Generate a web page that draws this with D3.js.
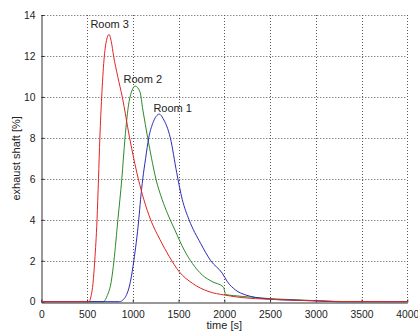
<!DOCTYPE html>
<html>
<head>
<meta charset="utf-8">
<script src="https://cdn.jsdelivr.net/npm/d3@7"></script>
<style>
  body { margin: 0; background: #fff; }
  svg { display: block; font-family: "Liberation Sans", Arial, sans-serif; }
</style>
</head>
<body>
<svg id="chart"></svg>
<script>
// room 1 (blue)
const room1T = [0, 855, 900, 928, 975, 1011, 1065, 1085, 1109, 1140, 1174, 1217, 1255, 1290, 1330, 1410, 1480, 1540, 1615, 1741, 1852, 1978, 2033, 2123, 2232, 2341, 2486, 2700, 3000, 3230, 4000];
const room1V = [0, 0, 0.12, 0.3, 1, 2, 4, 5, 6, 7, 8, 8.7, 9.05, 9.16, 8.95, 8, 6.3, 5, 4, 2.85, 2, 1.39, 0.98, 0.57, 0.33, 0.21, 0.13, 0.08, 0.04, 0, 0];
// room 2 (green)
const room2T = [0, 674, 700, 721, 765, 794, 837, 880, 915, 950, 990, 1025, 1078, 1110, 1163, 1205, 1252, 1320, 1380, 1460, 1562, 1651, 1760, 1868, 1990, 2015, 2100, 2300, 2500, 2800, 3100, 3300, 4000];
const room2V = [0, 0, 0.1, 0.3, 1, 2, 4, 6, 8, 9.5, 10.3, 10.53, 10.25, 9.36, 8, 7, 6, 5, 4.3, 3.5, 2.52, 1.87, 1.3, 0.98, 0.72, 0.35, 0.3, 0.22, 0.15, 0.09, 0.03, 0, 0];
// room 3 (red)
const room3T = [0, 520, 545, 565, 584, 609, 625, 640, 660, 685, 712, 740, 765, 790, 835, 885, 965, 1010, 1060, 1120, 1195, 1295, 1399, 1508, 1651, 1833, 1997, 2193, 2486, 2800, 3100, 3250, 4000];
const room3V = [0, 0, 0.3, 0.9, 2, 4, 6, 8, 10, 11.8, 12.75, 13.05, 12.7, 12, 11, 10, 8, 7, 6, 5, 4, 3.05, 2.2, 1.46, 0.9, 0.49, 0.33, 0.2, 0.12, 0.07, 0.03, 0.01, 0];

const xTicks = [0, 500, 1000, 1500, 2000, 2500, 3000, 3500, 4000];
const yTicks = [0, 2, 4, 6, 8, 10, 12, 14];

// labels of the curves
const labelText = ["Room 3", "Room 2", "Room 1"];
const labelT = [537, 899, 1225];
const labelV = [13.35, 10.66, 9.26];

function drawGraph() {
    let svg = d3.select("#chart")
        .attr("width", 418)
        .attr("height", 334);

    let area = { left: 41.3, right: 407.3, top: 15, bottom: 301.7 };

    let scX = d3.scaleLinear().domain([0, 4000]).range([area.left, area.right]);
    let scY = d3.scaleLinear().domain([0, 14]).range([area.bottom, area.top]);

    // grid (dotted)
    let grid = svg.append("g")
        .attr("stroke", "#555")
        .attr("stroke-width", 1)
        .attr("stroke-dasharray", "1,2");
    grid.selectAll(".gx")
        .data(xTicks.filter(d => d > 0))
        .enter()
        .append("line")
        .attr("x1", d => Math.round(scX(d)) + 0.5)
        .attr("x2", d => Math.round(scX(d)) + 0.5)
        .attr("y1", area.top)
        .attr("y2", area.bottom);
    grid.selectAll(".gy")
        .data(yTicks.filter(d => d > 0))
        .enter()
        .append("line")
        .attr("y1", d => Math.round(scY(d)) + 0.5)
        .attr("y2", d => Math.round(scY(d)) + 0.5)
        .attr("x1", area.left)
        .attr("x2", area.right);

    // axes
    let axisX = d3.axisBottom(scX).tickValues(xTicks).tickFormat(d3.format("d"))
        .tickSizeInner(-3).tickSizeOuter(0).tickPadding(8);
    let gx = svg.append("g")
        .attr("transform", `translate(0, ${Math.round(area.bottom) + 0.5})`)
        .call(axisX);
    let axisY = d3.axisLeft(scY).tickValues(yTicks).tickFormat(d3.format("d"))
        .tickSizeInner(-3).tickSizeOuter(0).tickPadding(6);
    let gy = svg.append("g")
        .attr("transform", `translate(${Math.round(area.left) + 0.5}, 0)`)
        .call(axisY);

    [gx, gy].forEach(g => {
        g.select(".domain").attr("stroke", "#333");
        g.selectAll(".tick line").attr("stroke", "#333");
        g.selectAll("text")
            .attr("fill", "#222")
            .style("font-size", "10.3px")
            .style("font-family", "'Liberation Sans', Arial, sans-serif");
    });

    // curves
    let series = [
        { t: room2T, v: room2V, color: "#2a8a2a" },
        { t: room1T, v: room1V, color: "#2b2bb5" },
        { t: room3T, v: room3V, color: "#e42424" }
    ];
    let line = d3.line()
        .x(d => scX(d[0]))
        .y(d => scY(d[1]))
        .curve(d3.curveMonotoneX);

    series.forEach(s => {
        svg.append("path")
            .datum(s.t.map((t, i) => [t, s.v[i]]))
            .attr("d", line)
            .attr("fill", "none")
            .attr("stroke", s.color)
            .attr("stroke-width", 1);
    });

    // room labels
    svg.selectAll(".room")
        .data(labelText)
        .enter()
        .append("text")
        .attr("x", (d, i) => scX(labelT[i]))
        .attr("y", (d, i) => scY(labelV[i]))
        .attr("fill", "#222")
        .style("font-size", "11px")
        .text(d => d);

    // axis titles
    svg.append("text")
        .attr("x", (area.left + area.right) / 2)
        .attr("y", 329)
        .attr("text-anchor", "middle")
        .attr("fill", "#222")
        .style("font-size", "11px")
        .text("time [s]");

    svg.append("text")
        .attr("transform", `translate(20, ${(area.top + area.bottom) / 2}) rotate(-90)`)
        .attr("text-anchor", "middle")
        .attr("fill", "#222")
        .style("font-size", "11px")
        .text("exhaust shaft [%]");
}

drawGraph();
</script>
</body>
</html>
